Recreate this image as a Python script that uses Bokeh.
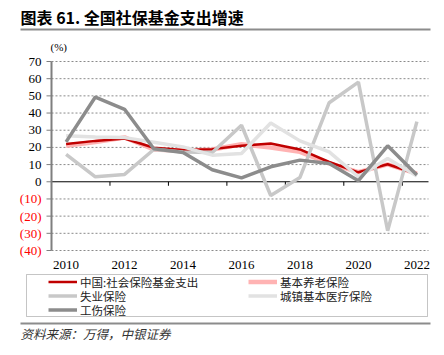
from bokeh.plotting import figure
from bokeh.models import (ColumnDataSource, BoxAnnotation, Legend, LegendItem, Range1d)
from bokeh.core.properties import value
from bokeh.embed import file_html
from bokeh.resources import INLINE

# ---------------- data ----------------
years = list(range(2010, 2023))
total = [22.0, 23.8, 25.2, 19.8, 18.5, 19.0, 21.0, 22.3, 18.8, 11.5, 5.5, 10.2, 4.5]
pension = [21.0, 23.2, 25.8, 18.8, 18.0, 18.8, 21.8, 20.0, 17.4, 10.7, 5.6, 10.1, 4.8]
unemployment = [16.0, 2.9, 4.3, 18.8, 17.4, 17.0, 32.9, -8.0, 2.5, 46.0, 58.0, -28.5, 35.0]
medical = [26.8, 26.1, 25.7, 23.0, 20.3, 15.5, 16.5, 34.2, 23.8, 17.4, 2.9, 13.6, 3.3]
injury = [23.2, 49.3, 42.2, 19.2, 17.0, 7.0, 2.3, 8.7, 12.6, 10.7, 0.6, 20.9, 4.0]

series_names = ["中国:社会保险基金支出", "基本养老保险", "失业保险", "城镇基本医疗保险", "工伤保险"]
y_ticks = [70, 60, 50, 40, 30, 20, 10, 0, -10, -20, -30, -40]
y_tick_labels = ["70", "60", "50", "40", "30", "20", "10", "0", "(10)", "(20)", "(30)", "(40)"]
x_label_years = [2010, 2012, 2014, 2016, 2018, 2020, 2022]

title_text = "图表 61. 全国社保基金支出增速"
unit_text = "(%)"
source_text = "资料来源：万得，中银证券"

# ---------------- layout (pixels) ----------------
W, H = 444, 355
FL, FR, FT, FB = 51, 431, 61, 250   # plot area in canvas pixels
YMIN, YMAX = min(y_ticks), max(y_ticks)
XMIN, XMAX = years[0] - 0.5, years[-1] + 0.5
PX_PER_X = (FR - FL) / (XMAX - XMIN)
PX_PER_Y = (FB - FT) / (YMAX - YMIN)

def X(px):
    return XMIN + (px - FL) / PX_PER_X

def Y(py):
    return YMAX - (py - FT) / PX_PER_Y

SERIF = "Liberation Serif"
CJK = "Noto Sans CJK SC"

p = figure(width=W, height=H, output_backend="svg", toolbar_location=None,
           x_range=Range1d(X(0), X(W)), y_range=Range1d(Y(H), Y(0)),
           min_border=0)
p.axis.visible = False
p.grid.visible = False
p.outline_line_color = None
p.background_fill_color = "white"
p.border_fill_color = "white"

# ---- grid lines (dashed) ----
grid_y = [v for v in y_ticks if v != 0]
p.segment(x0=[XMIN] * len(grid_y), x1=[X(FR - 3)] * len(grid_y), y0=grid_y, y1=grid_y,
          line_color="#8a8a8a", line_width=1, line_dash="2 2")

# ---- zero line with category tick marks ----
p.segment(x0=[XMIN], x1=[X(FR - 3)], y0=[0], y1=[0], line_color="black", line_width=1)
bounds = [y + 0.5 for y in years[1:-1:2]]
tick_len = 4 / PX_PER_Y
p.segment(x0=bounds, x1=bounds, y0=[0] * len(bounds), y1=[-tick_len] * len(bounds),
          line_color="black", line_width=1)

# ---- y axis ----
p.segment(x0=[XMIN], x1=[XMIN], y0=[YMIN], y1=[YMAX], line_color="#7f7f7f", line_width=2)
ytick_dx = 5 / PX_PER_X
p.segment(x0=[XMIN - ytick_dx] * len(y_ticks), x1=[XMIN] * len(y_ticks), y0=y_ticks, y1=y_ticks,
          line_color="#7f7f7f", line_width=1)
ylab = ColumnDataSource(dict(x=[X(41)] * len(y_ticks), y=y_ticks, text=y_tick_labels,
                             color=["#ff0000" if v < 0 else "black" for v in y_ticks]))
p.text(x="x", y="y", text="text", source=ylab, text_color="color", text_align="right",
       text_baseline="middle", text_font=value(SERIF), text_font_size="13px")

# ---- x labels ----
xlab = ColumnDataSource(dict(x=x_label_years, y=[Y(264)] * len(x_label_years),
                             text=[str(v) for v in x_label_years]))
p.text(x="x", y="y", text="text", source=xlab, text_align="center", text_baseline="middle",
       text_color="black", text_font=value(SERIF), text_font_size="13px")

# ---- series ----
src = ColumnDataSource(dict(year=years, total=total, pension=pension,
                            unemployment=unemployment, medical=medical, injury=injury))
r_pension = p.line("year", "pension", source=src, line_color="#ffb3b3", line_width=4.5)
r_total = p.line("year", "total", source=src, line_color="#c00000", line_width=2.5)
r_unemp = p.line("year", "unemployment", source=src, line_color="#c8c8c8", line_width=3.5)
r_med = p.line("year", "medical", source=src, line_color="#e2e2e2", line_width=3.5)
r_inj = p.line("year", "injury", source=src, line_color="#8c8c8c", line_width=3.5)

# ---- legend (box + one horizontal legend per row) ----
p.add_layout(BoxAnnotation(left=X(26), right=X(427), top=Y(274), bottom=Y(316),
                           fill_alpha=0, line_color="#404040", line_width=1))
rows = [[(series_names[0], r_total), (series_names[1], r_pension)],
        [(series_names[2], r_unemp), (series_names[3], r_med)],
        [(series_names[4], r_inj)]]
row_bottoms = [289.5, 303.5, 317.5]
for row, bottom in zip(rows, row_bottoms):
    lg = Legend(items=[LegendItem(label=name, renderers=[r]) for name, r in row],
                orientation="horizontal", location=(48, H - bottom),
                border_line_color=None, background_fill_alpha=0,
                padding=0, margin=0, spacing=0,
                glyph_width=29, glyph_height=13, label_height=13,
                label_width=168, label_standoff=3,
                label_text_font=CJK, label_text_font_size="11.5px",
                label_text_color="#222222")
    p.add_layout(lg, "center")

# ---- rules ----
for top, bot in [(28, 30), (322, 324)]:
    p.add_layout(BoxAnnotation(left=X(20), right=X(430), top=Y(top), bottom=Y(bot),
                               fill_color="#8c8c8c", fill_alpha=1, line_color=None))

# ---- title, unit, source ----
p.text(x=[X(20)], y=[Y(16)], text=[title_text], text_font=value(CJK), text_font_size="16px",
       text_font_style="bold", text_baseline="middle", text_color="black")
p.text(x=[X(50)], y=[Y(46)], text=[unit_text], text_font=value(SERIF), text_font_size="11px",
       text_baseline="middle", text_color="black")
p.text(x=[X(20)], y=[Y(333)], text=[source_text], text_font=value(CJK), text_font_size="12.5px",
       text_font_style="italic", text_baseline="middle", text_color="#333333")

open("out.html", "w").write(file_html(p, INLINE))
